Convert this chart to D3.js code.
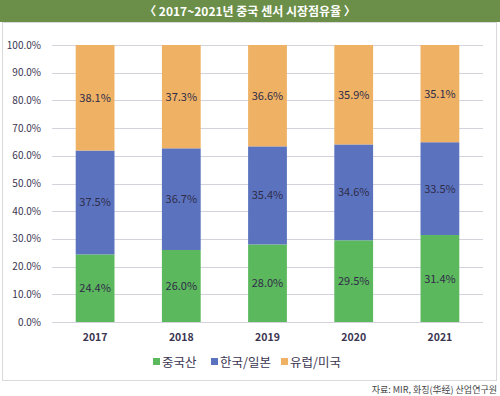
<!DOCTYPE html>
<html>
<head>
<meta charset="utf-8">
<script src="https://cdn.jsdelivr.net/npm/d3@7"></script>
<style>
  body { margin: 0; background: #fff; }
  svg { display: block; font-family: "Noto Sans CJK KR", "Noto Sans", sans-serif; }
</style>
</head>
<body>
<div id="chart"></div>
<script>
// chart data
const years = ["2017", "2018", "2019", "2020", "2021"];
const seriesNames = ["중국산", "한국/일본", "유럽/미국"];
const china = [24.4, 26.0, 28.0, 29.5, 31.4];
const koreaJapan = [37.5, 36.7, 35.4, 34.6, 33.5];
const euroUs = [38.1, 37.3, 36.6, 35.9, 35.1];
const yTicks = [0, 10, 20, 30, 40, 50, 60, 70, 80, 90, 100];

const colors = ["#5cb85c", "#5b73bf", "#efb264"];
const width = 500;
const height = 396;

var svg = d3.select("#chart").append("svg")
  .attr("width", width)
  .attr("height", height);

// title bar
svg.append("rect")
  .attr("x", 0).attr("y", 0)
  .attr("width", width).attr("height", 22)
  .attr("fill", "#6b8f48");
svg.append("text")
  .attr("x", width / 2).attr("y", 15.5)
  .attr("text-anchor", "middle")
  .attr("fill", "#fff")
  .attr("font-size", 12)
  .attr("font-weight", "bold")
  .text("〈 2017~2021년 중국 센서 시장점유율 〉");

// frame around the chart
svg.append("rect")
  .attr("x", 2.5).attr("y", 22.5)
  .attr("width", 494).attr("height", 358)
  .attr("fill", "none")
  .attr("stroke", "#d9d9d9");

var x = d3.scaleBand()
  .domain(years)
  .range([52, 483])
  .paddingInner(0.55)
  .paddingOuter(0.275);

var y = d3.scaleLinear()
  .domain([0, 100])
  .range([322, 45]);

// gridlines
svg.append("g")
  .selectAll("line")
  .data(yTicks)
  .enter()
  .append("line")
  .attr("x1", 52).attr("x2", 483)
  .attr("y1", d => Math.round(y(d)) + 0.5)
  .attr("y2", d => Math.round(y(d)) + 0.5)
  .attr("stroke", "#d4d2dc");

// y labels
svg.append("g")
  .selectAll("text")
  .data(yTicks)
  .enter()
  .append("text")
  .attr("x", 41)
  .attr("y", d => y(d) + 3.5)
  .attr("text-anchor", "end")
  .attr("font-size", 10)
  .attr("fill", "#3b3552")
  .text(d => d.toFixed(1) + "%");

// stack the three series
var rows = years.map(function(yr, i) {
  return { year: yr, s0: china[i], s1: koreaJapan[i], s2: euroUs[i] };
});
var stacked = d3.stack().keys(["s0", "s1", "s2"])(rows);

var layers = svg.append("g")
  .selectAll("g")
  .data(stacked)
  .enter()
  .append("g")
  .attr("fill", (d, i) => colors[i]);

layers.selectAll("rect")
  .data(d => d)
  .enter()
  .append("rect")
  .attr("x", d => x(d.data.year))
  .attr("width", x.bandwidth())
  .attr("y", d => y(d[1]))
  .attr("height", d => y(d[0]) - y(d[1]));

// value labels in the middle of each segment
layers.selectAll("text")
  .data(d => d.map(p => ({ p: p, v: p[1] - p[0] })))
  .enter()
  .append("text")
  .attr("x", d => x(d.p.data.year) + x.bandwidth() / 2)
  .attr("y", d => y((d.p[0] + d.p[1]) / 2) + 4)
  .attr("text-anchor", "middle")
  .attr("font-size", 11)
  .attr("fill", "#2f2c4a")
  .text(d => d.v.toFixed(1) + "%");

// year labels
svg.append("g")
  .selectAll("text")
  .data(years)
  .enter()
  .append("text")
  .attr("x", d => x(d) + x.bandwidth() / 2)
  .attr("y", 341)
  .attr("text-anchor", "middle")
  .attr("font-size", 10.5)
  .attr("font-weight", "bold")
  .attr("fill", "#3b3552")
  .text(d => d);

// legend
var legendX = [153, 211, 281];
var legend = svg.append("g")
  .selectAll("g")
  .data(seriesNames)
  .enter()
  .append("g")
  .attr("transform", (d, i) => "translate(" + legendX[i] + ",362)");
legend.append("rect")
  .attr("x", 0).attr("y", -4)
  .attr("width", 7).attr("height", 7)
  .attr("fill", (d, i) => colors[i]);
legend.append("text")
  .attr("x", 9).attr("y", 4.5)
  .attr("font-size", 12.5)
  .attr("fill", "#3b3552")
  .text(d => d);

// source note
svg.append("text")
  .attr("x", 497).attr("y", 393)
  .attr("text-anchor", "end")
  .attr("font-size", 9)
  .attr("fill", "#444")
  .text("자료: MIR, 화징(华经) 산업연구원");
</script>
</body>
</html>
